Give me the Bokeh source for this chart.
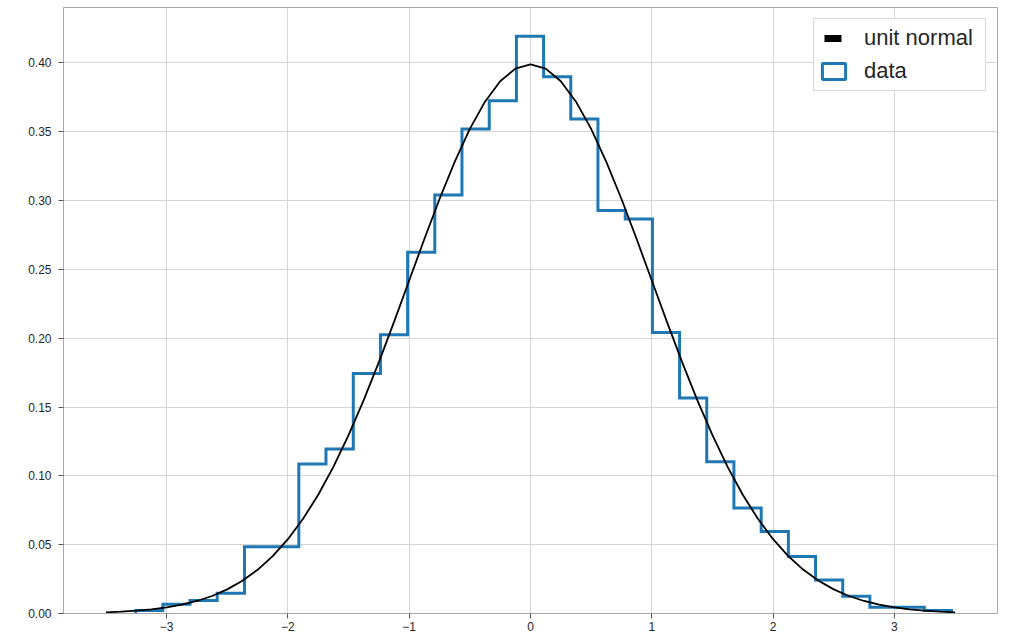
import math
from bokeh.plotting import figure
from bokeh.models import Legend, LegendItem, FixedTicker, NumeralTickFormatter
from bokeh.embed import file_html
from bokeh.resources import INLINE

# ---------------- data ----------------
bin_edges = [-3.255, -3.031, -2.807, -2.583, -2.358, -2.134, -1.910, -1.686,
             -1.461, -1.237, -1.013, -0.789, -0.565, -0.340, -0.116, 0.108,
             0.332, 0.556, 0.781, 1.005, 1.229, 1.453, 1.677, 1.902, 2.126,
             2.350, 2.574, 2.798, 3.023, 3.247, 3.471]
density = [0.0022, 0.0068, 0.0095, 0.0148, 0.0485, 0.0485, 0.1086, 0.1195,
           0.1744, 0.2025, 0.2624, 0.3041, 0.3520, 0.3726, 0.4193, 0.3900,
           0.3593, 0.2927, 0.2866, 0.2042, 0.1565, 0.1102, 0.0766, 0.0596,
           0.0414, 0.0243, 0.0125, 0.0045, 0.0045, 0.0022]

normal_x = [-3.5, -3.375, -3.25, -3.125, -3.0, -2.875, -2.75, -2.625, -2.5,
            -2.375, -2.25, -2.125, -2.0, -1.875, -1.75, -1.625, -1.5, -1.375,
            -1.25, -1.125, -1.0, -0.875, -0.75, -0.625, -0.5, -0.375, -0.25,
            -0.125, 0.0, 0.125, 0.25, 0.375, 0.5, 0.625, 0.75, 0.875, 1.0,
            1.125, 1.25, 1.375, 1.5, 1.625, 1.75, 1.875, 2.0, 2.125, 2.25,
            2.375, 2.5, 2.625, 2.75, 2.875, 3.0, 3.125, 3.25, 3.375, 3.5]
normal_pdf = [0.00087, 0.00134, 0.00203, 0.00302, 0.00443, 0.00640, 0.00909,
              0.01272, 0.01753, 0.02377, 0.03174, 0.04172, 0.05399, 0.06879,
              0.08628, 0.10654, 0.12952, 0.15501, 0.18265, 0.21188, 0.24197,
              0.27205, 0.30114, 0.32816, 0.35207, 0.37185, 0.38667, 0.39584,
              0.39894, 0.39584, 0.38667, 0.37185, 0.35207, 0.32816, 0.30114,
              0.27205, 0.24197, 0.21188, 0.18265, 0.15501, 0.12952, 0.10654,
              0.08628, 0.06879, 0.05399, 0.04172, 0.03174, 0.02377, 0.01753,
              0.01272, 0.00909, 0.00640, 0.00443, 0.00302, 0.00203, 0.00134,
              0.00087]

x_ticks = [-3, -2, -1, 0, 1, 2, 3]
x_tick_labels = ["\u22123", "\u22122", "\u22121", "0", "1", "2", "3"]
y_ticks = [0.0, 0.05, 0.10, 0.15, 0.20, 0.25, 0.30, 0.35, 0.40]
legend_labels = ["unit normal", "data"]

# ---------------- style ----------------
BLUE = "#1f77b4"
FONT = "Liberation Sans"
SPINE = "#a8a8a8"
GRID = "#d6d6d6"
TEXT = "#262626"

x_lo = min(normal_x[0], bin_edges[0])
x_hi = max(normal_x[-1], bin_edges[-1])
x_pad = 0.05 * (x_hi - x_lo)
y_top = 1.05 * max(max(density), max(normal_pdf))

p = figure(width=1010, height=635, output_backend="svg", toolbar_location=None,
           x_range=(x_lo - x_pad, x_hi + x_pad), y_range=(0, y_top),
           min_border_left=63, min_border_right=13, min_border_top=7,
           min_border_bottom=22)
p.background_fill_color = "white"
p.border_fill_color = "white"
p.outline_line_color = SPINE
p.outline_line_width = 1

# histogram outline (step)
step_x = [bin_edges[0]]
step_y = [0.0]
for i, h in enumerate(density):
    step_x += [bin_edges[i], bin_edges[i + 1]]
    step_y += [h, h]
step_x.append(bin_edges[-1])
step_y.append(0.0)
p.line(step_x, step_y, line_color=BLUE, line_width=3, line_join="miter")

# unit normal curve
p.line(normal_x, normal_pdf, line_color="black", line_width=1.8)

# legend-only renderers (no visible data)
nan = float("nan")
leg_norm = p.line([nan, nan], [nan, nan], line_color="black", line_width=7,
                  line_dash="0 5 17 100")
leg_data = p.quad(left=[nan], right=[nan], top=[nan], bottom=[nan],
                  fill_color=None, line_color=BLUE, line_width=3)

legend = Legend(items=[LegendItem(label=legend_labels[0], renderers=[leg_norm]),
                       LegendItem(label=legend_labels[1], renderers=[leg_data])],
                location="top_right", margin=11, padding=5, spacing=5,
                glyph_width=29, glyph_height=20, label_height=28,
                label_width=116, label_standoff=16,
                label_text_font=FONT, label_text_font_size="22px",
                label_text_color=TEXT, border_line_color="#b0b0b0",
                border_line_width=1, background_fill_color="white",
                background_fill_alpha=1.0)
p.add_layout(legend, "center")

# axes
for ax in (p.xaxis[0], p.yaxis[0]):
    ax.axis_line_color = SPINE
    ax.major_tick_line_color = "#555555"
    ax.major_tick_out = 5
    ax.major_tick_in = 0
    ax.minor_tick_line_color = None
    ax.major_label_text_font = FONT
    ax.major_label_text_font_size = "12px"
    ax.major_label_text_color = TEXT

p.xaxis.ticker = FixedTicker(ticks=x_ticks, minor_ticks=[])
p.xaxis.major_label_overrides = dict(zip(x_ticks, x_tick_labels))
p.xaxis.major_label_standoff = 3
p.yaxis.ticker = FixedTicker(ticks=y_ticks, minor_ticks=[])
p.yaxis.formatter = NumeralTickFormatter(format="0.00")
p.yaxis.major_label_standoff = 7

p.xgrid.grid_line_color = GRID
p.ygrid.grid_line_color = GRID
p.xgrid.grid_line_width = 1
p.ygrid.grid_line_width = 1

open("out.html", "w").write(file_html(p, INLINE))
